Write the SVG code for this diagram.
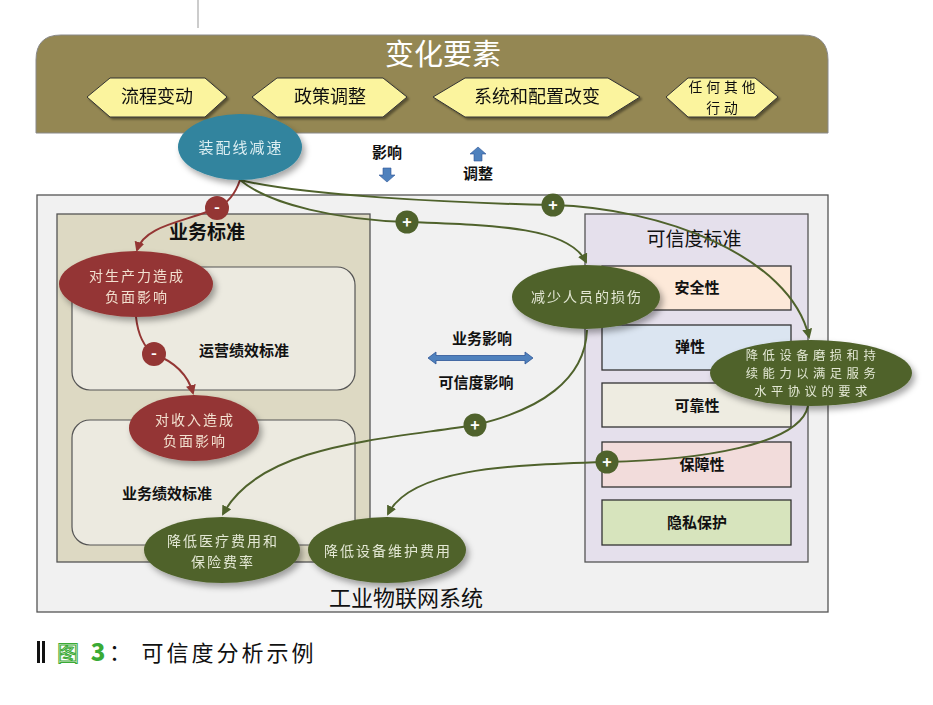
<svg xmlns="http://www.w3.org/2000/svg" width="933" height="705" viewBox="0 0 933 705">
<defs>
<filter id="sh" x="-20%" y="-20%" width="150%" height="150%"><feDropShadow dx="3" dy="4" stdDeviation="3" flood-color="#000" flood-opacity="0.35"/></filter>
<filter id="sh2" x="-10%" y="-10%" width="130%" height="140%"><feDropShadow dx="2" dy="2" stdDeviation="1" flood-color="#000" flood-opacity="0.4"/></filter>
<marker id="ar" viewBox="0 0 10 10" refX="8" refY="5" markerWidth="5" markerHeight="5" orient="auto"><path d="M0,0 L10,5 L0,10 z" fill="#943634"/></marker>
<marker id="ag" viewBox="0 0 10 10" refX="8" refY="5" markerWidth="5" markerHeight="5" orient="auto"><path d="M0,0 L10,5 L0,10 z" fill="#4F622C"/></marker>
</defs>
<style>
text{font-family:"Noto Sans CJK SC","Noto Sans",sans-serif;text-anchor:middle}
.hex{fill:#FBF49E;stroke:#333;stroke-width:1}
.ht{font-size:18px;fill:#111}
.ht2{font-size:13.8px;fill:#111;letter-spacing:4px}
.box{stroke:#555;stroke-width:1.3}
.rr{fill:#ECEAE0;stroke:#555;stroke-width:1.2}
.ir{stroke:#333;stroke-width:1.3}
.it{font-size:15px;font-weight:bold;fill:#111}
.red{fill:#943634}
.grn{fill:#4F622C}
.et{font-size:14px;fill:#F2E0D0;letter-spacing:2px}
.gt{font-size:14px;fill:#E4E8D4;letter-spacing:2px}
.gt3{font-size:12.3px;fill:#E4E8D4;letter-spacing:4.5px}
.bt{font-size:15px;font-weight:bold;fill:#111}
.cr{fill:none;stroke:#943634;stroke-width:2}
.cg{fill:none;stroke:#4F622C;stroke-width:2}
.sg{font-size:16px;font-weight:bold;fill:#fff}
</style>
<line x1="198" y1="0" x2="198" y2="28" stroke="#bbb" stroke-width="1.5"/>
<g id="banner">
<path d="M36,133 L36,60 Q36,35 61,35 L803,35 Q828,35 828,60 L828,133 Z" fill="#948753" stroke="#888" stroke-width="1"/>
<text x="443" y="65" font-size="29" fill="#fff">变化要素</text>
</g>
<g id="hex1" filter="url(#sh2)"><path class="hex" d="M87,97 L110,78 L205,78 L227,97 L205,117 L110,117 Z"/><text class="ht" x="157" y="103">流程变动</text></g>
<g id="hex2" filter="url(#sh2)"><path class="hex" d="M252,97 L277,78 L383,78 L407,97 L383,117 L277,117 Z"/><text class="ht" x="330" y="103">政策调整</text></g>
<g id="hex3" filter="url(#sh2)"><path class="hex" d="M433,97 L465,78 L608,78 L640,97 L608,117 L465,117 Z"/><text class="ht" x="537" y="103">系统和配置改变</text></g>
<g id="hex4" filter="url(#sh2)"><path class="hex" d="M666,97 L688,78 L755,78 L778,97 L755,117 L688,117 Z"/><text class="ht2" x="724" y="92">任何其他</text><text class="ht2" x="724" y="112.5">行动</text></g>
<g id="legend-top">
<text class="bt" x="387" y="158" font-size="14">影响</text>
<path d="M383,168 L391,168 L391,175 L395,175 L387,182 L379,175 L383,175 Z" fill="#4F81BD" stroke="#2F5597" stroke-width="0.6"/>
<path d="M474,161 L482,161 L482,154 L486,154 L478,147 L470,154 L474,154 Z" fill="#4F81BD" stroke="#2F5597" stroke-width="0.6"/>
<text class="bt" x="478" y="179" font-size="14">调整</text>
</g>
<g id="iiot">
<rect class="box" x="37" y="195" width="791" height="417" fill="#F1F1F1"/>
<text x="406" y="606" font-size="22" fill="#111">工业物联网系统</text>
</g>
<g id="biz">
<rect class="box" x="57" y="214" width="313" height="348" fill="#DDD9C3"/>
<text x="207" y="239" font-size="19" font-weight="bold" fill="#111">业务标准</text>
<rect class="rr" x="72" y="267" width="283" height="123" rx="18"/>
<text class="it" x="244" y="356">运营绩效标准</text>
<rect class="rr" x="72" y="420" width="283" height="125" rx="18"/>
<text class="it" x="167" y="499">业务绩效标准</text>
</g>
<g id="rel">
<rect class="box" x="585" y="214" width="223" height="348" fill="#E5E0EC"/>
<text x="694" y="246" font-size="19" fill="#111">可信度标准</text>
<rect class="ir" x="602" y="266" width="189" height="44" fill="#FDE9D9"/><text class="it" x="697" y="293">安全性</text>
<rect class="ir" x="602" y="325" width="189" height="45" fill="#DBE5F1"/><text class="it" x="690" y="352">弹性</text>
<rect class="ir" x="602" y="383" width="189" height="44" fill="#EEECE1"/><text class="it" x="697" y="411">可靠性</text>
<rect class="ir" x="602" y="442" width="189" height="45" fill="#F2DCDB"/><text class="it" x="702" y="470">保障性</text>
<rect class="ir" x="602" y="500" width="189" height="45" fill="#D7E4BD"/><text class="it" x="697" y="528">隐私保护</text>
</g>
<g id="mid-legend">
<text class="bt" x="482" y="344">业务影响</text>
<path d="M428,358 L436,352 L436,355.5 L525,355.5 L525,352 L533,358 L525,364 L525,360.5 L436,360.5 L436,364 Z" fill="#4F81BD" stroke="#2F5597" stroke-width="0.8"/>
<text class="bt" x="476" y="388">可信度影响</text>
</g>
<g id="connectors">
<path class="cr" d="M240,180 C235,195 228,203 217,208 C185,222 145,225 137,250" marker-end="url(#ar)"/>
<path class="cr" d="M136,317 C138,335 145,348 154,354 C175,362 188,375 193,393" marker-end="url(#ar)"/>
<path class="cg" d="M240,180 C270,205 340,220 407,222 C500,225 570,228 586,262" marker-end="url(#ag)"/>
<path class="cg" d="M240,180 C300,195 450,203 553,205 C660,208 790,255 809,337" marker-end="url(#ag)"/>
<path class="cg" d="M587,330 C585,380 540,410 475,425 C380,440 260,445 223,514" marker-end="url(#ag)"/>
<path class="cg" d="M808,406 C800,445 700,460 607,462 C500,465 410,470 388,514" marker-end="url(#ag)"/>
</g>
<g id="signs">
<circle class="red" cx="217" cy="208" r="12"/><text class="sg" x="217" y="213">-</text>
<circle class="red" cx="154" cy="354" r="12"/><text class="sg" x="154" y="359">-</text>
<circle class="grn" cx="407" cy="222" r="11.5"/><text class="sg" x="407" y="228">+</text>
<circle class="grn" cx="553" cy="205" r="11.5"/><text class="sg" x="553" y="211">+</text>
<circle class="grn" cx="475" cy="425" r="11.5"/><text class="sg" x="475" y="431">+</text>
<circle class="grn" cx="607" cy="462" r="11.5"/><text class="sg" x="607" y="468">+</text>
</g>
<g id="n-slow" filter="url(#sh)"><ellipse cx="240" cy="147" rx="62" ry="33" fill="#30849E"/><text x="241" y="153" font-size="15" letter-spacing="2" fill="#DDEEF2">装配线减速</text></g>
<g id="n-prod" filter="url(#sh)"><ellipse class="red" cx="136" cy="284" rx="77" ry="33"/><text class="et" x="137" y="281">对生产力造成</text><text class="et" x="137" y="301.5">负面影响</text></g>
<g id="n-rev" filter="url(#sh)"><ellipse class="red" cx="194" cy="428" rx="65" ry="33"/><text class="et" x="195" y="425">对收入造成</text><text class="et" x="195" y="445.5">负面影响</text></g>
<g id="n-injury" filter="url(#sh)"><ellipse class="grn" cx="586" cy="297" rx="74" ry="32"/><text class="gt" x="587" y="302">减少人员的损伤</text></g>
<g id="n-wear" filter="url(#sh)"><ellipse class="grn" cx="811" cy="373" rx="101" ry="33"/><text class="gt3" x="813" y="360">降低设备磨损和持</text><text class="gt3" x="813" y="378">续能力以满足服务</text><text class="gt3" x="813" y="396">水平协议的要求</text></g>
<g id="n-med" filter="url(#sh)"><ellipse class="grn" cx="222" cy="550" rx="78" ry="33"/><text class="gt" x="223" y="546">降低医疗费用和</text><text class="gt" x="223" y="566.5">保险费率</text></g>
<g id="n-maint" filter="url(#sh)"><ellipse class="grn" cx="387" cy="550" rx="79" ry="33"/><text class="gt" x="388" y="556">降低设备维护费用</text></g>
<g id="caption">
<rect x="37" y="641" width="3" height="22" fill="#111"/><rect x="42" y="641" width="3" height="22" fill="#111"/>
<text x="68" y="661" font-size="22" fill="#fff" stroke="#3AAA35" stroke-width="1">图</text>
<text x="98" y="661" font-size="24" font-weight="900" fill="#3AAA35" font-family="Liberation Sans,sans-serif">3</text>
<text x="120" y="660" font-size="22" fill="#111">：</text>
<text x="229" y="661" font-size="22" fill="#111" letter-spacing="3">可信度分析示例</text>
</g>
</svg>
